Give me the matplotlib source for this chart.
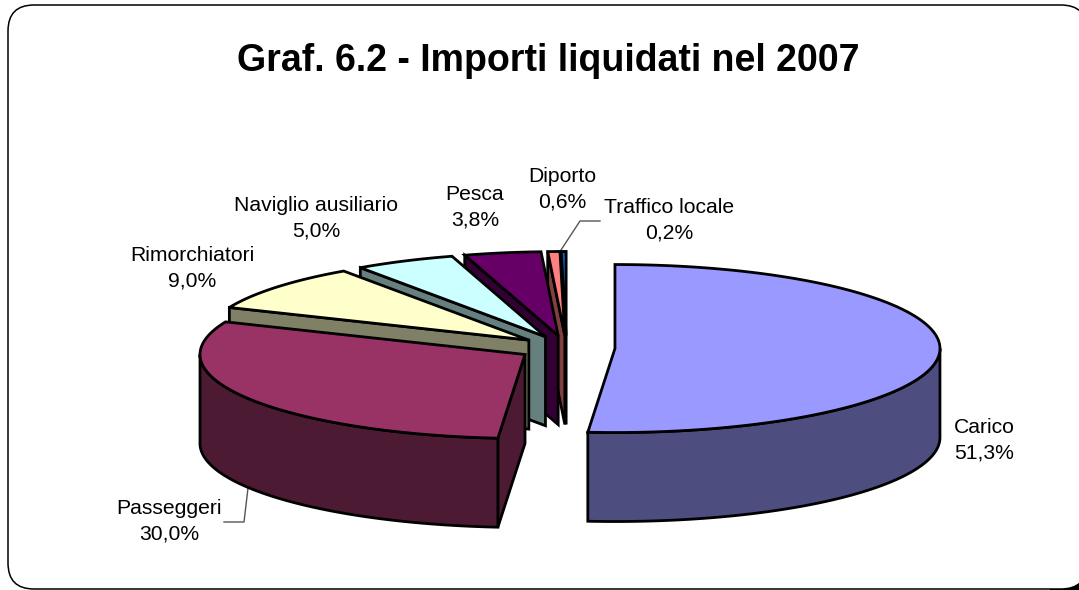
import numpy as np
import matplotlib
matplotlib.use("Agg")
import matplotlib.pyplot as plt
from matplotlib.patches import FancyBboxPatch, Polygon, Rectangle

plt.rcParams["font.family"] = ["Liberation Sans", "DejaVu Sans"]

# dati
CATEGORIES = ["Carico", "Passeggeri", "Rimorchiatori", "Naviglio ausiliario",
              "Pesca", "Diporto", "Traffico locale"]
VALUES = [51.3, 30.0, 9.0, 5.0, 3.8, 0.6, 0.24]
VALUE_LABELS = ["51,3%", "30,0%", "9,0%", "5,0%", "3,8%", "0,6%", "0,2%"]
TOP_COLORS = ["#9999FF", "#993366", "#FFFFCC", "#CCFFFF", "#660066", "#FF8080", "#0066CC"]
SIDE_COLORS = ["#4D4D80", "#4D1A33", "#808066", "#668080", "#330033", "#804040", "#003366"]
LABEL_POS = [(984, 440), (169, 521), (192, 268), (316, 218), (475, 207), (562, 189), (669, 220)]

# geometria del pie 3D (pixel)
CX, CY = 566.5, 348
RX, RY = 325, 84
DEPTH = 89
EXPLODE = 48.5


def rim(theta, apex):
    """punto sul bordo, theta in radianti in senso orario dalle 12"""
    return np.column_stack([apex[0] + RX * np.sin(theta), apex[1] - RY * np.cos(theta)])


def draw_slice(ax, start, end, top, side, z):
    mid = (start + end) / 2
    apex = (CX + EXPLODE * np.sin(mid), CY - EXPLODE * RY / RX * np.cos(mid))
    lw = 2.0
    # faccia radiale visibile (lato iniziale)
    if np.cos(start - np.pi / 2) < 0:
        p = rim(np.array([start]), apex)[0]
        face = [apex, p, (p[0], p[1] + DEPTH), (apex[0], apex[1] + DEPTH)]
        ax.add_patch(Polygon(face, closed=True, fc=side, ec="black", lw=lw, zorder=z))
    # parete esterna, solo la parte davanti
    lo, hi = max(start, np.pi / 2), min(end, 3 * np.pi / 2)
    if hi > lo:
        t = np.linspace(lo, hi, 120)
        up = rim(t, apex)
        down = up + [0, DEPTH]
        ax.add_patch(Polygon(np.vstack([up, down[::-1]]), closed=True, fc=side,
                             ec="black", lw=lw, zorder=z))
    # faccia superiore
    t = np.linspace(start, end, 200)
    pts = np.vstack([[apex], rim(t, apex)])
    ax.add_patch(Polygon(pts, closed=True, fc=top, ec="black", lw=lw, zorder=z + 0.5))


fig = plt.figure(figsize=(10.79, 5.90), dpi=100)
ax = fig.add_axes([0, 0, 1, 1])
ax.set_xlim(0, 1079)
ax.set_ylim(590, 0)
ax.axis("off")

# angolo nero in basso a destra, fuori dal riquadro
ax.add_patch(Rectangle((1050, 560), 40, 40, fc="black", ec="none", zorder=-1))
ax.add_patch(FancyBboxPatch((8, 5), 1079, 584, boxstyle="round,pad=0,rounding_size=26",
                            fc="white", ec="black", lw=1.1, zorder=0))

fractions = np.array(VALUES) / sum(VALUES)
edges = np.concatenate([[0], np.cumsum(fractions)]) * 2 * np.pi
mids = (edges[:-1] + edges[1:]) / 2
# dal fondo verso il davanti
order = np.argsort(-np.cos(mids))
for rank, i in enumerate(order):
    draw_slice(ax, edges[i], edges[i + 1], TOP_COLORS[i], SIDE_COLORS[i], 2 + rank)

ax.text(548, 61, "Graf. 6.2 - Importi liquidati nel 2007", ha="center", va="center",
        fontsize=27, fontweight="bold", color="black", zorder=20)
for name, val, (x, y) in zip(CATEGORIES, VALUE_LABELS, LABEL_POS):
    ax.text(x, y, f"{name}\n{val}", ha="center", va="center", fontsize=15.2,
            linespacing=1.42, color="black", zorder=20)

# linee guida
ax.plot([224, 244, 248], [522, 522, 488], color="#555555", lw=1, zorder=1)
ax.plot([600, 580, 561], [221, 221, 250], color="#555555", lw=1, zorder=1)

fig.savefig("out.png", dpi=100)
plt.close(fig)
